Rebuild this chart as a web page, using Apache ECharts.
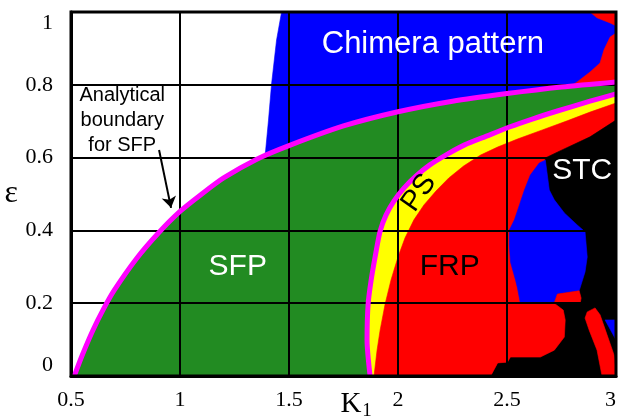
<!DOCTYPE html>
<html>
<head>
<meta charset="utf-8">
<script src="https://cdn.jsdelivr.net/npm/echarts@6/dist/echarts.min.js"></script>
<style>
  html, body { margin: 0; padding: 0; background: #fff; }
  #chart { width: 619px; height: 420px; }
</style>
</head>
<body>
<div id="chart"></div>
<script>
// ---- Axes ----
const kTicks = [0.5, 1, 1.5, 2, 2.5, 3];
const epsTicks = [0, 0.2, 0.4, 0.6, 0.8, 1];

// ---- Phase boundaries, [K1, ε] ----
// Analytical boundary of the SFP region (upper magenta curve)
const sfpBoundary = [
  [0.515, 0], [0.55, 0.055], [0.6, 0.125], [0.65, 0.185], [0.7, 0.237],
  [0.8, 0.322], [0.9, 0.392], [1.0, 0.452], [1.1, 0.500], [1.2, 0.544],
  [1.35, 0.595], [1.5, 0.633], [1.75, 0.687], [2.0, 0.726], [2.25, 0.755],
  [2.5, 0.776], [2.75, 0.794], [3.0, 0.808]
];
// Onset of the PS band (lower magenta curve)
const psBoundary = [
  [1.872, 0], [1.858, 0.099], [1.863, 0.198], [1.877, 0.264], [1.895, 0.327],
  [1.918, 0.398], [1.945, 0.442], [1.982, 0.481], [2.027, 0.516], [2.082, 0.549],
  [2.146, 0.580], [2.219, 0.607], [2.306, 0.635], [2.406, 0.659], [2.511, 0.684],
  [2.616, 0.706], [2.731, 0.728], [2.881, 0.755], [3.0, 0.775]
];
// Onset of FRP (yellow / red edge)
const frpBoundary = [
  [1.890, 0], [1.904, 0.071], [1.918, 0.126], [1.941, 0.198], [1.968, 0.264],
  [2.0, 0.327], [2.032, 0.379], [2.073, 0.429], [2.119, 0.470], [2.174, 0.508],
  [2.233, 0.544], [2.301, 0.577], [2.379, 0.607], [2.457, 0.629], [2.548, 0.651],
  [2.662, 0.676], [2.776, 0.701], [2.881, 0.725], [3.0, 0.750]
];
// Left edge of the chimera region
const chimeraEdge = [
  [1.466, 1.0], [1.443, 0.923], [1.420, 0.802], [1.406, 0.703], [1.393, 0.621],
  [1.384, 0.580], [1.380, 0.500], [3.0, 0.500], [3.0, 1.0]
];
// Red patches in the upper right corner
const cornerRedTop = [[2.881, 1.0], [3.0, 1.0], [3.0, 0.962], [2.973, 0.970], [2.913, 0.984]];
const cornerRedWedge = [
  [3.0, 0.942], [2.973, 0.931], [2.945, 0.896], [2.927, 0.860], [2.881, 0.835],
  [2.822, 0.808], [2.731, 0.772], [3.0, 0.772]
];
// STC region
const stcRegion = [
  [3.0, 0.703], [2.881, 0.657], [2.731, 0.615], [2.676, 0.599], [2.662, 0.484],
  [2.676, 0.209], [2.639, 0.126], [2.502, 0.049], [2.457, 0.036], [2.425, 0], [3.0, 0]
];
// FRP pocket below the chimera island
const frpPocket = [
  [2.479, 0.209], [2.721, 0.198], [2.758, 0.181], [2.767, 0.154], [2.763, 0.107],
  [2.717, 0.071], [2.653, 0.052], [2.516, 0.052], [2.502, 0.038], [2.457, 0.036],
  [2.425, 0], [2.365, 0], [2.365, 0.209]
];
// Chimera island inside FRP / STC
const chimeraIsland = [
  [2.648, 0.585], [2.676, 0.593], [2.685, 0.552], [2.694, 0.511], [2.717, 0.484],
  [2.763, 0.448], [2.822, 0.415], [2.858, 0.396], [2.868, 0.327], [2.858, 0.286],
  [2.831, 0.234], [2.731, 0.225], [2.717, 0.201], [2.561, 0.201], [2.548, 0.242],
  [2.539, 0.264], [2.516, 0.313], [2.511, 0.360], [2.511, 0.401], [2.534, 0.429],
  [2.557, 0.470], [2.580, 0.511], [2.607, 0.552]
];
const frpStrip = [[2.717, 0.201], [2.731, 0.225], [2.831, 0.234], [2.840, 0.214], [2.836, 0.201]];
const frpFinger = [
  [2.868, 0.176], [2.904, 0.187], [2.927, 0.168], [2.959, 0.113], [2.991, 0.058],
  [3.0, 0], [2.936, 0], [2.913, 0.071], [2.877, 0.126], [2.858, 0.159]
];
const chimeraCorner = [[2.950, 0.154], [3.0, 0.154], [3.0, 0.099]];

// ---- Region and annotation text ----
const regionNames = ['Chimera pattern', 'SFP', 'FRP', 'STC', 'PS'];
const regionK = [2.160, 1.265, 2.237, 2.845, 2.096];
const regionEps = [0.912, 0.299, 0.299, 0.563, 0.503];
const noteText = 'Analytical\nboundary\nfor SFP';
const notePos = [0.735, 0.703];
const arrowPath = [[0.904, 0.621], [0.959, 0.462]];

const BLUE = '#0000ff', GREEN = '#228b22', RED = '#ff0000', YELLOW = '#ffff00',
      BLACK = '#000000', MAGENTA = '#ff00ff';

const labelStyle = {
  'Chimera pattern': { color: '#ffffff', size: 31, rot: 0 },
  'SFP': { color: '#ffffff', size: 30, rot: 0 },
  'FRP': { color: '#000000', size: 30, rot: 0 },
  'STC': { color: '#ffffff', size: 30, rot: 0 },
  'PS':  { color: '#000000', size: 29, rot: 55 }
};

// Filled region drawn as one polygon through the cartesian scales
function region(points, color) {
  return {
    type: 'custom',
    coordinateSystem: 'cartesian2d',
    silent: true,
    z: 2,
    data: points,
    renderItem: function (params, api) {
      if (params.dataIndex !== 0) return null;
      return {
        type: 'polygon',
        shape: { points: points.map(function (p) { return api.coord(p); }) },
        style: { fill: color, stroke: color, lineWidth: 0.6 }
      };
    }
  };
}

function curve(points) {
  return {
    type: 'line',
    data: points,
    showSymbol: false,
    silent: true,
    smooth: 0.25,
    z: 5,
    lineStyle: { color: MAGENTA, width: 5 }
  };
}

const labelData = regionNames.map(function (n, i) { return [regionK[i], regionEps[i], i]; });

const chart = echarts.init(document.getElementById('chart'), null, { renderer: 'canvas' });
chart.setOption({
  animation: false,
  backgroundColor: '#ffffff',
  grid: {
    left: 71, right: 1, top: 12, bottom: 44,
    show: true, borderColor: '#000', borderWidth: 3,
    backgroundColor: 'transparent', z: 8
  },
  xAxis: {
    type: 'value', min: kTicks[0], max: kTicks[kTicks.length - 1], interval: 0.5,
    z: 4,
    axisLine: { show: true, lineStyle: { color: '#000', width: 3 } },
    axisTick: { show: false },
    splitLine: { show: true, lineStyle: { color: '#000', width: 2 } },
    axisLabel: {
      color: '#000', fontFamily: 'Liberation Serif', fontSize: 22, margin: 13,
      alignMaxLabel: 'right'
    }
  },
  yAxis: {
    type: 'value', min: epsTicks[0], max: epsTicks[epsTicks.length - 1], interval: 0.2,
    z: 4,
    name: 'ε', nameLocation: 'middle', nameGap: 53, nameRotate: 0,
    nameTextStyle: { color: '#000', fontFamily: 'Liberation Serif', fontSize: 32 },
    axisLine: { show: true, lineStyle: { color: '#000', width: 3 } },
    axisTick: { show: false },
    splitLine: { show: true, lineStyle: { color: '#000', width: 2 } },
    axisLabel: {
      color: '#000', fontFamily: 'Liberation Serif', fontSize: 22, margin: 18,
      verticalAlignMaxLabel: 'top', verticalAlignMinLabel: 'bottom'
    }
  },
  graphic: [
    { type: 'text', x: 351, y: 404, z: 10,
      style: { text: 'K', fill: '#000', font: '29px "Liberation Serif"', align: 'center', verticalAlign: 'middle' } },
    { type: 'text', x: 367, y: 411, z: 10,
      style: { text: '1', fill: '#000', font: '19px "Liberation Serif"', align: 'center', verticalAlign: 'middle' } }
  ],
  series: [
    region(chimeraEdge, BLUE),
    region(cornerRedTop, RED),
    region(cornerRedWedge, RED),
    region(sfpBoundary.concat([[3.0, 0], [0.515, 0]]), GREEN),
    region(psBoundary.concat([[3.0, 0]]), YELLOW),
    region(frpBoundary.concat([[3.0, 0]]), RED),
    region(stcRegion, BLACK),
    region(frpPocket, RED),
    region(chimeraIsland, BLUE),
    region(frpStrip, RED),
    region(frpFinger, RED),
    region(chimeraCorner, BLUE),
    curve(sfpBoundary),
    curve(psBoundary),
    {
      type: 'lines',
      coordinateSystem: 'cartesian2d',
      silent: true,
      z: 9,
      symbol: ['none', 'arrow'],
      symbolSize: 11,
      lineStyle: { color: '#000', width: 2, opacity: 1 },
      data: [{ coords: arrowPath }]
    },
    {
      type: 'custom',
      coordinateSystem: 'cartesian2d',
      silent: true,
      z: 9,
      data: [notePos],
      renderItem: function (params, api) {
        const p = api.coord(notePos);
        return {
          type: 'text', x: p[0], y: p[1],
          style: {
            text: noteText, fill: '#000', fontFamily: 'Liberation Sans', fontSize: 20,
            lineHeight: 25, align: 'center', verticalAlign: 'middle'
          }
        };
      }
    },
    {
      type: 'custom',
      coordinateSystem: 'cartesian2d',
      silent: true,
      z: 9,
      data: labelData,
      renderItem: function (params, api) {
        const name = regionNames[params.dataIndex];
        const s = labelStyle[name];
        const p = api.coord([api.value(0), api.value(1)]);
        return {
          type: 'text', x: p[0], y: p[1], rotation: s.rot * Math.PI / 180,
          style: {
            text: name, fill: s.color, fontFamily: 'Liberation Sans', fontSize: s.size,
            align: 'center', verticalAlign: 'middle'
          }
        };
      }
    }
  ]
});
</script>
</body>
</html>
